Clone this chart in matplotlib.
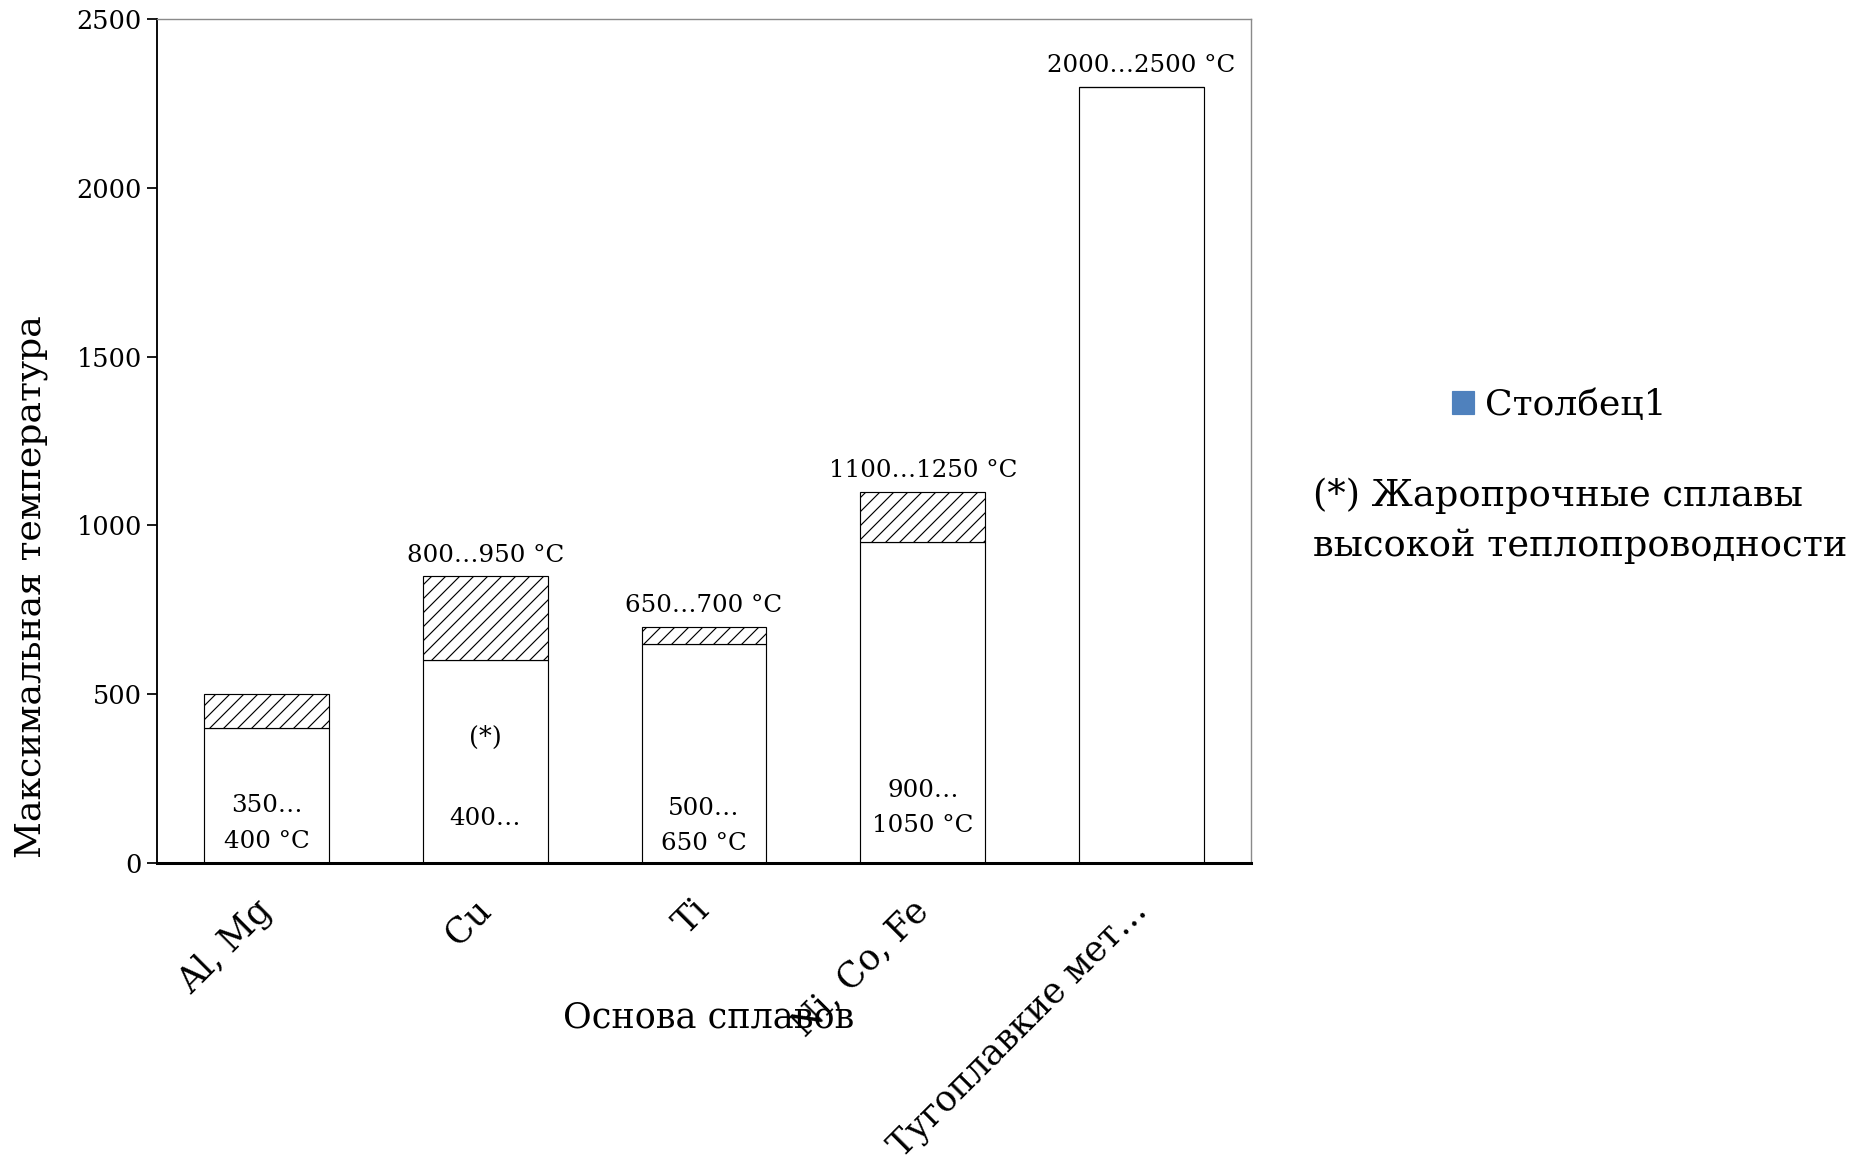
import matplotlib
matplotlib.use("Agg")
import matplotlib.pyplot as plt
from matplotlib.patches import Patch

plt.rcParams['font.family'] = ['DejaVu Serif', 'DejaVu Sans']
plt.rcParams['hatch.linewidth'] = 1.0

# ---- data ----
categories = ["Al, Mg", "Cu", "Ti", "Ni, Co, Fe", "Тугоплавкие мет…"]
base_values = [400, 600, 650, 950, 2300]      # lower (white) part
hatch_values = [100, 250, 50, 150, 0]         # hatched extension
top_labels = ["", "800…950 °C", "650…700 °C", "1100…1250 °C", "2000…2500 °C"]
inner_labels = ["350…\n400 °C", "400…", "500…\n650 °C", "900…\n1050 °C", ""]
inner_label_y = [117, 131, 110, 163, 0]
y_ticks = [0, 500, 1000, 1500, 2000, 2500]
legend_label = "Столбец1"
footnote = "(*) Жаропрочные сплавы\nвысокой теплопроводности"
xlabel = "Основа сплавов"
ylabel = "Максимальная температура"

DPI = 84
fig = plt.figure(figsize=(1874 / DPI, 1163 / DPI), dpi=DPI)
ax = fig.add_axes([157 / 1874, 1 - 863 / 1163, (1251 - 157) / 1874, (863 - 19) / 1163])

x = list(range(len(categories)))
w = 0.57
ax.bar(x, base_values, width=w, color="white", edgecolor="black", linewidth=1.0, zorder=2)
ax.bar(x, hatch_values, width=w, bottom=base_values, color="white", edgecolor="black",
       hatch="//", linewidth=1.0, zorder=2)

for xi, b, h, lab in zip(x, base_values, hatch_values, top_labels):
    if lab:
        ax.annotate(lab, (xi, b + h), xytext=(0, 18), textcoords="offset points",
                    ha="center", va="center", fontsize=21)
for xi, lab, yy in zip(x, inner_labels, inner_label_y):
    if lab:
        ax.text(xi, yy, lab, ha="center", va="center", fontsize=21, linespacing=1.7)
ax.text(x[1], 372, "(*)", ha="center", va="center", fontsize=22)

ax.set_xlim(-0.5, len(categories) - 0.5)
ax.set_ylim(0, 2500)
ax.set_yticks(y_ticks)
ax.set_yticklabels([str(v) for v in y_ticks], fontsize=22)
ax.set_xticks(x)
ax.set_xticklabels(categories, fontsize=30, rotation=45, ha="right", va="center",
                   rotation_mode="anchor")
ax.tick_params(axis="x", length=0, pad=36)
ax.tick_params(axis="y", length=9, width=1.5, direction="out", pad=4)

for s in ["top", "right"]:
    ax.spines[s].set_color("#8a8a8a")
    ax.spines[s].set_linewidth(1.2)
ax.spines["left"].set_color("black")
ax.spines["left"].set_linewidth(1.6)
ax.spines["bottom"].set_color("black")
ax.spines["bottom"].set_linewidth(2.6)
ax.spines["bottom"].set_zorder(3)

fig.text(31 / 1874, 1 - 587 / 1163, ylabel, rotation=90, ha="center", va="center", fontsize=31)
fig.text(709 / 1874, 1 - 1018 / 1163, xlabel, ha="center", va="center", fontsize=30)

fig.legend(handles=[Patch(facecolor="#4F81BD", edgecolor="#4F81BD", label=legend_label)],
           loc="center left", bbox_to_anchor=(1452 / 1874, 1 - 405 / 1163), frameon=False,
           fontsize=31, handlelength=0.62, handleheight=0.62, handletextpad=0.3,
           borderpad=0, borderaxespad=0)
fig.text(1313 / 1874, 1 - 521 / 1163, footnote, ha="left", va="center", fontsize=31.5,
         linespacing=1.5)

fig.savefig("out.png", dpi=DPI)
